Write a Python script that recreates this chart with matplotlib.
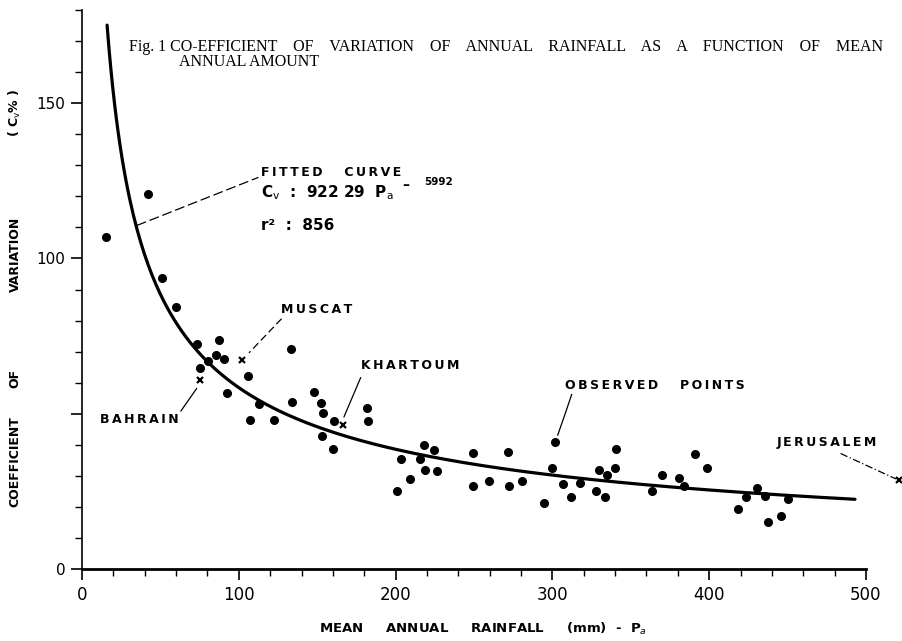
import matplotlib.pyplot as plt
import numpy as np

# observed points (mean annual rainfall mm, coefficient of variation %)
obs_p = [15.3, 42.3, 51.2, 59.8, 73.1, 87.6, 85.3, 90.8, 80.6, 75.3,
         106.1, 92.3, 112.9, 107.1, 122.6, 133.1, 133.7, 148.2, 152.2, 153.9,
         160.7, 153.1, 160.3, 182.0, 182.2, 217.9, 224.3, 203.6, 215.6, 218.8,
         226.2, 209.2, 200.7, 249.6, 249.2, 271.5, 301.7, 340.8, 390.9, 300.0,
         329.7, 339.7, 334.8, 259.8, 272.3, 280.8, 306.6, 317.4, 311.9, 294.8,
         328.0, 333.7, 363.3, 370.1, 380.5, 383.9, 398.8, 430.3, 423.5, 435.8,
         450.0, 418.6, 437.5, 445.6]
obs_cv = [106.9, 120.8, 93.7, 84.3, 72.6, 73.6, 68.8, 67.5, 67.0, 64.7,
          62.1, 56.8, 53.1, 47.9, 47.9, 71.0, 53.8, 57.0, 53.3, 50.1,
          47.7, 42.8, 38.5, 51.8, 47.5, 39.8, 38.4, 35.3, 35.3, 31.8,
          31.6, 29.0, 25.0, 37.2, 26.7, 37.7, 40.9, 38.7, 36.9, 32.5,
          31.8, 32.4, 30.4, 28.4, 26.7, 28.2, 27.3, 27.8, 23.2, 21.4,
          25.0, 23.1, 25.2, 30.2, 29.3, 26.7, 32.4, 26.1, 23.1, 23.5,
          22.7, 19.2, 15.2, 17.1]

# named stations (x markers)
stations = ['BAHRAIN', 'MUSCAT', 'KHARTOUM', 'JERUSALEM']
st_p = [75.3, 101.8, 166.7, 521.0]
st_cv = [60.8, 67.2, 46.3, 28.6]

# fitted curve as printed on the chart: Cv = 922.29 Pa^-0.5992
fit_a = 922.29
fit_b = -0.5992
fit_range = [16.0, 493.0]


def spaced(s, gap='\u2009'):
    # stencil-like lettering: thin space between letters, wide between words
    return '     '.join(gap.join(w) for w in s.split(' '))


fig = plt.figure(figsize=(9.03, 6.41), dpi=100)
ax = fig.add_axes([0.0908, 0.1123, 0.8682, 0.8721])

pa = np.linspace(fit_range[0], fit_range[1], 400)
ax.plot(pa, fit_a * pa ** fit_b, color='black', lw=2.3, solid_capstyle='round')
ax.plot(obs_p, obs_cv, 'o', color='black', ms=5.5, ls='none')
ax.plot(st_p, st_cv, 'x', color='black', ms=5, mew=1.6, ls='none', clip_on=False)

ax.set_xlim(0, 500)
ax.set_ylim(0, 180)
for s in ['top', 'right']:
    ax.spines[s].set_visible(False)
ax.spines['bottom'].set_linewidth(2.0)
ax.spines['left'].set_linewidth(1.2)

ax.set_xticks([0, 100, 200, 300, 400, 500])
ax.set_xticks(np.arange(0, 501, 20), minor=True)
ax.set_yticks([0, 50, 100, 150])
ax.set_yticklabels(['0', '', '100', '150'])
ax.set_yticks(np.arange(0, 181, 10), minor=True)
ax.tick_params(which='major', length=8, width=1.2, pad=4)
ax.tick_params(axis='x', labelsize=12)
ax.tick_params(axis='y', labelsize=11)
ax.tick_params(which='minor', length=5, width=1.0)

ax.set_xlabel('MEAN     ANNUAL     RAINFALL     (mm)  -  P$_a$', fontsize=9.5,
              fontweight='bold')
ax.xaxis.set_label_coords(0.512, -0.093)

# y label, widely spaced words
ylab = dict(fontsize=9, fontweight='bold', rotation=90, ha='center', va='center')
fig.text(15 / 903, 1 - 462 / 641, 'COEFFICIENT', **ylab)
fig.text(15 / 903, 1 - 378 / 641, 'OF', **ylab)
fig.text(15 / 903, 1 - 254 / 641, 'VARIATION', **ylab)
fig.text(15 / 903, 1 - 113 / 641, '( C$_\\mathrm{v}$% )', **ylab)

# title inside the plot
fig.text(129 / 903, 1 - 47 / 641,
         'Fig. 1 CO-EFFICIENT    OF    VARIATION    OF    ANNUAL    RAINFALL    AS    A    FUNCTION    OF    MEAN',
         family='Liberation Serif', fontsize=11.5, va='center', ha='left')
fig.text(179 / 903, 1 - 62 / 641, 'ANNUAL AMOUNT',
         family='Liberation Serif', fontsize=11.5, va='center', ha='left')

lab = dict(fontsize=9, fontweight='bold', color='black')

# fitted curve annotation
ax.plot([34.9, 112.5], [110.6, 126.1], color='black', lw=0.9, ls=(0, (8, 3)))
ax.text(114, 127.8, spaced('FITTED CURVE'), va='center', ha='left', **lab)
ax.text(114, 121.3, r'C$_\mathrm{v}$  :  922 29  P$_\mathrm{a}$',
        va='center', ha='left', fontsize=11, fontweight='bold')
ax.text(204.5, 123.8, '\u2013', va='center', ha='left', fontsize=10, fontweight='bold')
ax.text(218, 124.6, '5992', va='center', ha='left', fontsize=7.5, fontweight='bold')
ax.text(114, 110.6, 'r\u00b2  :  856', va='center', ha='left',
        fontsize=11, fontweight='bold')

# station annotations
ax.plot([63.1, 73.1], [50.9, 58.1], color='black', lw=0.9)
ax.text(36.5, 48.1, spaced('BAHRAIN'), va='center', ha='center', **lab)

ax.plot([127.3, 106.5], [80.6, 69.6], color='black', lw=0.9, ls=(0, (6, 3)))
ax.text(149.6, 83.5, spaced('MUSCAT'), va='center', ha='center', **lab)

ax.plot([177.7, 167.1], [61.6, 49.0], color='black', lw=0.9)
ax.text(209, 65.6, spaced('KHARTOUM'), va='center', ha='center', **lab)

ax.plot([483.8, 519.1], [37.2, 29.0], color='black', lw=0.9,
        ls=(0, (6, 2, 1, 2)), clip_on=False)
ax.text(475, 40.6, spaced('JERUSALEM'), va='center', ha='center', **lab)

ax.plot([312.3, 308.5, 303.4], [56.2, 50.5, 43.1], color='black', lw=0.9)
ax.text(365.4, 59.2, spaced('OBSERVED POINTS'), va='center', ha='center', **lab)

fig.savefig('out.png', dpi=100)
